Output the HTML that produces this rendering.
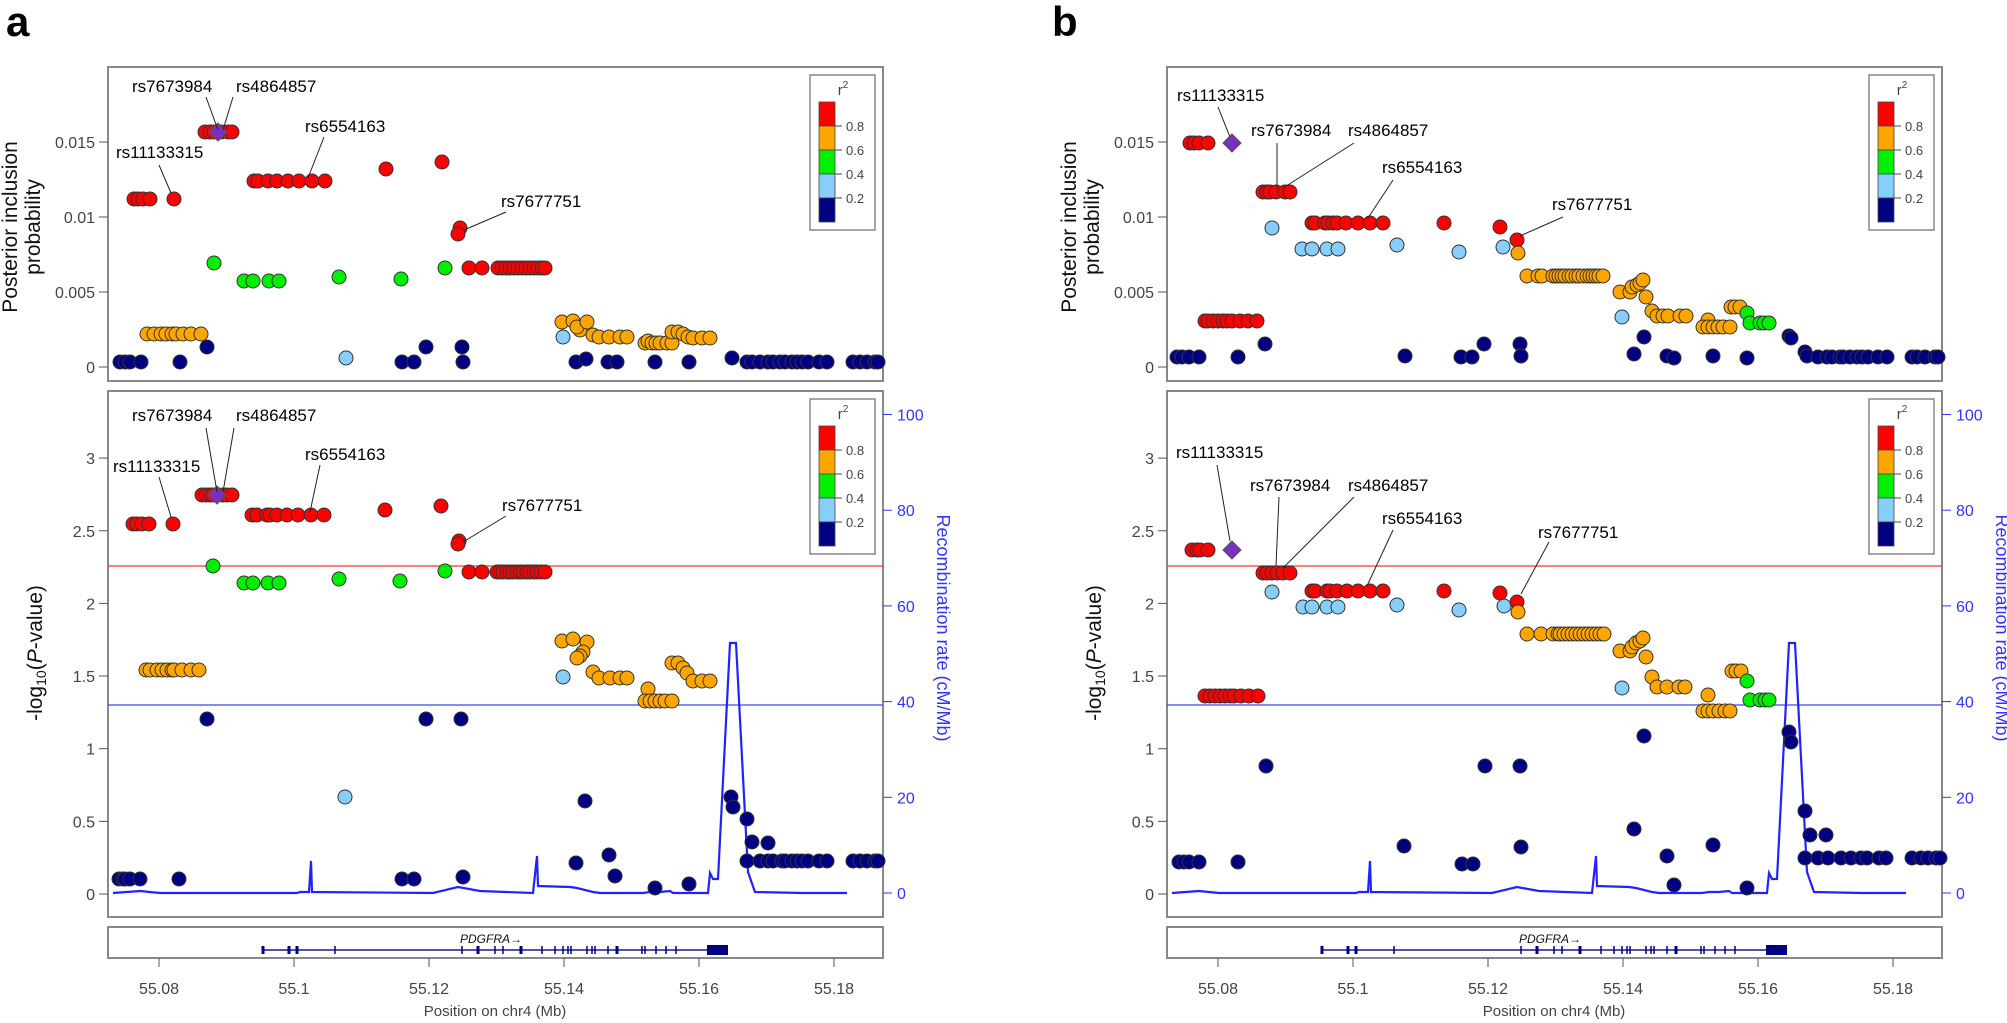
<!DOCTYPE html>
<html><head><meta charset="utf-8">
<style>
html,body{margin:0;padding:0;background:#fff;}
svg{display:block;}
text{font-family:"Liberation Sans",Arial,sans-serif;}
</style></head>
<body>
<svg id="s" width="2007" height="1023" xmlns="http://www.w3.org/2000/svg"></svg>
<script>
const S=document.getElementById('s');
let h='';
const col={n:'#000080',l:'#87CEFA',g:'#00EE00',o:'#FFA500',r:'#FF0000'};
function pts(dx,list,c){let o='';for(let i=0;i<list.length;i+=2){o+=`<circle cx="${list[i]+dx}" cy="${list[i+1]}" r="7" fill="${col[c]}" stroke="#333" stroke-width="1"/>`;}return o;}
function row(xs,y){const a=[];xs.forEach(x=>{a.push(x,y)});return a;}
function dia(x,y){return `<polygon points="${x},${y-9} ${x+9},${y} ${x},${y+9} ${x-9},${y}" fill="#7B2FBE" stroke="#555" stroke-width="1"/>`;}
function txt(x,y,t,o){o=o||{};return `<text x="${x}" y="${y}" font-size="${o.s||17}" fill="${o.f||'#000'}" text-anchor="${o.a||'start'}" ${o.e||''}>${t}</text>`;}
function ln(x1,y1,x2,y2,c,w){return `<line x1="${x1}" y1="${y1}" x2="${x2}" y2="${y2}" stroke="${c||'#222'}" stroke-width="${w||1}"/>`;}
function legend(dx,y0){let o=`<rect x="${810+dx}" y="${y0}" width="65" height="155" fill="#fff" stroke="#888" stroke-width="1.5"/>`;
 o+=`<text x="${843+dx}" y="${y0+20}" font-size="15" fill="#444" text-anchor="middle">r<tspan font-size="10" dy="-7">2</tspan></text>`;
 const cs=['r','o','g','l','n'];cs.forEach((c,i)=>{o+=`<rect x="${819+dx}" y="${y0+27+i*24}" width="16" height="24" fill="${col[c]}" stroke="#444" stroke-width="0.8"/>`;});
 ['0.8','0.6','0.4','0.2'].forEach((t,i)=>{const y=y0+51+i*24;o+=ln(835+dx,y,842+dx,y,'#444');o+=txt(846+dx,y+5,t,{s:13,f:'#444'});});return o;}
const recomb=[[113,893],[140,891],[160,893],[297,893],[300,892],[309,892],[311,861],[312,892],[433,893],[458,887],[480,891],[533,893],[537,856],[538,886],[570,887],[577,888],[593,892],[600,893],[627,893],[643,893],[650,892],[660,892],[670,891],[673,893],[708,893],[710,873],[713,879],[718,879],[730,643],[736,643],[748,872],[755,892],[803,893],[847,893]];
function frame(dx,L){
 let o='';
 o+=`<rect x="${108+dx}" y="67" width="775" height="314" fill="none" stroke="#888" stroke-width="2"/>`;
 o+=`<rect x="${108+dx}" y="391" width="775" height="526" fill="none" stroke="#888" stroke-width="2"/>`;
 o+=`<rect x="${108+dx}" y="927" width="775" height="31" fill="none" stroke="#888" stroke-width="2"/>`;
 [['0.015',142],['0.01',217],['0.005',292],['0',367]].forEach(([t,y])=>{o+=ln(99+dx,y,108+dx,y,'#555');o+=txt(95+dx,y+6,t,{s:16,f:'#444',a:'end'});});
 ['0','0.5','1','1.5','2','2.5','3'].forEach((t,i)=>{const y=894-i*0.5*145.3;o+=ln(99+dx,y,108+dx,y,'#555');o+=txt(95+dx,y+6,t,{s:16,f:'#444',a:'end'});});
 [0,20,40,60,80,100].forEach(v=>{const y=893-v*4.785;o+=ln(883+dx,y,892+dx,y,'#3333ff');o+=txt(897+dx,y+6,v,{s:16,f:'#3333ff'});});
 ['55.08','55.1','55.12','55.14','55.16','55.18'].forEach((t,i)=>{const x=159+i*135;o+=ln(x+dx,958,x+dx,967,'#555');o+=txt(x+dx,994,t,{s:16,f:'#444',a:'middle'});});
 o+=txt(495+dx,1016,'Position on chr4 (Mb)',{s:15,f:'#444',a:'middle'});
 o+=`<text transform="translate(${17+dx},227) rotate(-90)" font-size="21" text-anchor="middle" fill="#111">Posterior inclusion</text>`;
 o+=`<text transform="translate(${40+dx},227) rotate(-90)" font-size="21" text-anchor="middle" fill="#111">probability</text>`;
 o+=`<text transform="translate(${42+dx},653) rotate(-90)" font-size="21" text-anchor="middle" fill="#111">-log<tspan font-size="14" dy="4">10</tspan><tspan dy="-4">(</tspan><tspan font-style="italic">P</tspan>-value)</text>`;
 o+=`<text transform="translate(${937+dx},628) rotate(90)" font-size="18" text-anchor="middle" fill="#3333ff">Recombination rate (cM/Mb)</text>`;
 o+=ln(108+dx,566,883+dx,566,'#ff3333',1.3);
 o+=ln(108+dx,705,883+dx,705,'#4444ee',1.3);
 o+=`<polyline points="${recomb.map(p=>(p[0]+dx)+','+p[1]).join(' ')}" fill="none" stroke="#2222ff" stroke-width="2.2"/>`;
 o+=ln(263+dx,950,728+dx,950,'#1a1a8a',1.5);
 [263,289,297,335,462,478,495,503,521,542,555,563,568,571,587,592,595,608,617,642,645,656,666,676].forEach(x=>{const w=[263,289,297,478,521,617].includes(x)?3:1.5;o+=`<rect x="${x+dx-w/2}" y="946" width="${w}" height="8" fill="#000080"/>`;});
 o+=`<rect x="${707+dx}" y="945" width="21" height="10" fill="#000080"/>`;
 o+=`<text x="${460+dx}" y="943" font-size="12" font-style="italic" fill="#111">PDGFRA→</text>`;
 o+=legend(dx,75)+legend(dx,399);
 o+=`<text x="${L[1]}" y="36" font-size="42" font-weight="bold" fill="#000">${L[0]}</text>`;
 return o;
}
h+=frame(0,['a',6])+frame(1059,['b',1052]);

let a='';
a+=pts(0,row([120,125,130,141,180],362),'n');
a+=pts(0,row([147,154,161,166,172,176,183,191,201],334),'o');
a+=pts(0,[207,347],'n');
a+=pts(0,row([134,138,143,150,174],199),'r');
a+=pts(0,row([205,210,214,221,228,232],132),'r');
a+=pts(0,[214,263],'g');
a+=pts(0,row([254,258,268,277,288,299,312,325],181),'r');
a+=pts(0,row([244,253,269,279],281),'g');
a+=pts(0,[339,277,401,279,445,268],'g');
a+=pts(0,[346,358],'l');
a+=pts(0,[386,169,442,162,460,228,458,234],'r');
a+=pts(0,[402,362,414,362,426,347,462,347,463,362],'n');
a+=pts(0,row([469,482,498,502,506,510,514,518,522,526,530,534,538,542,545],268),'r');
a+=pts(0,[562,322,573,321,580,330,577,327,587,322,593,335,599,337,609,337,620,337,627,337,645,343,648,341,652,343,656,343,660,343,667,343,672,343,672,332,678,332,683,334,688,337,693,338,702,338,710,338],'o');
a+=pts(0,[563,337],'l');
a+=pts(0,[576,362,586,359,608,362,617,362,655,362,689,362,732,358],'n');
a+=pts(0,row([747,752,760,768,773,780,785,792,797,802,808,819,827,853,860,867,875,878],362),'n');
a+=dia(218,132);
a+=txt(132,92,'rs7673984')+txt(236,92,'rs4864857')+txt(305,132,'rs6554163')+txt(116,158,'rs11133315')+txt(501,207,'rs7677751');
a+=ln(206,97,218,130)+ln(233,97,223,130)+ln(324,137,308,178)+ln(159,165,171,193)+ln(506,212,464,230);
a+=pts(0,row([133,137,142,149,173],524),'r');
a+=pts(0,row([202,206,210,213,218,223,227,232],495),'r');
a+=pts(0,[213,566,339,579,400,581,445,571],'g');
a+=pts(0,row([252,257,267,270,277,287,298,311,324],515),'r');
a+=pts(0,row([244,253,268,279],583),'g');
a+=pts(0,[385,510,441,506,459,541,458,544],'r');
a+=pts(0,row([146,150,157,162,167,172,174,182,191,199],670),'o');
a+=pts(0,[207,719,426,719,461,719],'n');
a+=pts(0,row([469,482,497,500,503,507,510,513,517,520,523,527,530,534,537,541,545],572),'r');
a+=pts(0,[562,641,573,639,587,642,583,652,580,656,577,658,593,672,599,678,610,678,620,678,627,678,648,689,645,701,650,701,655,701,660,701,665,701,672,701,672,663,678,663,683,668,687,673,693,681,702,681,710,681],'o');
a+=pts(0,[563,677,345,797],'l');
a+=pts(0,row([119,123,125,130,140,179],879),'n');
a+=pts(0,[402,879,414,879,463,877,585,801,576,863,609,855,615,876,655,888,689,884,731,797,733,807,747,819,752,842,768,843],'n');
a+=pts(0,row([747,760,768,773,782,785,792,797,802,808,819,827,853,860,867,875,878],861),'n');
a+=dia(217,495);
a+=txt(132,421,'rs7673984')+txt(236,421,'rs4864857')+txt(113,472,'rs11133315')+txt(305,460,'rs6554163')+txt(502,511,'rs7677751');
a+=ln(206,428,217,492)+ln(234,428,223,492)+ln(159,477,171,517)+ln(320,465,310,512)+ln(506,516,463,542);
h+=a;

const D=1059;let b='';
b+=pts(D,row([118,123,130,140,179],357),'n');
b+=pts(D,row([131,135,140,149],143),'r');
b+=pts(D,row([146,149,154,159,164,168,173,181,189,198],321),'r');
b+=pts(D,[206,344],'n');
b+=pts(D,row([204,208,211,217,226,231],192),'r');
b+=pts(D,[213,228],'l');
b+=pts(D,row([253,256,266,269,274,278,287,299,311,324],223),'r');
b+=pts(D,row([243,253,268,279],249),'l');
b+=pts(D,[338,245,400,252,444,247,563,317],'l');
b+=pts(D,[385,223,441,227,458,240],'r');
b+=pts(D,[346,356,402,357,413,357,425,344,461,344,462,356],'n');
b+=pts(D,[459,253,468,276,479,276],'o');
b+=pts(D,row([483,494,497,500,503,506,510,513,517,520,524,528,531,534,537,540,544],276),'o');
b+=pts(D,[561,292,571,292,573,287,578,285,581,283,584,280,587,297,593,311,598,316,604,316,609,316,621,316,627,316,649,320,644,327,649,327,654,327,659,327,664,327,671,327,672,307,676,307,681,307],'o');
b+=pts(D,[688,313,691,323,701,323,705,323,710,323],'g');
b+=pts(D,[585,337,575,354,608,356,615,358,654,356,688,358,730,336,732,338,746,352,748,356],'n');
b+=pts(D,row([759,768,773,781,784,791,798,803,809,819,828,853,858,866,876,879],357),'n');
b+=dia(173+D,143);
b+=txt(1177,101,'rs11133315')+txt(1251,136,'rs7673984')+txt(1348,136,'rs4864857')+txt(1382,173,'rs6554163')+txt(1552,210,'rs7677751');
b+=ln(1218,107,1230,137)+ln(1277,143,1277,188)+ln(1354,143,1283,188)+ln(1393,180,1368,218)+ln(1563,217,1520,236);
b+=pts(D,row([133,138,141,149],550),'r');
b+=pts(D,row([204,208,213,218,224,231],573),'r');
b+=pts(D,[213,592],'l');
b+=pts(D,row([253,256,268,271,278,288,299,311,324],591),'r');
b+=pts(D,row([244,253,268,279],607),'l');
b+=pts(D,[338,605,400,610,445,606,563,688],'l');
b+=pts(D,[385,591,441,593,458,602],'r');
b+=pts(D,[459,612],'o');
b+=pts(D,row([468,482,494,499,501,505,509,513,517,521,525,529,533,537,541,545],634),'o');
b+=pts(D,row([146,151,156,161,166,171,175,182,190,199],696),'r');
b+=pts(D,[561,651,571,651,573,647,577,643,581,641,584,638,587,657,593,677,598,687,608,687,620,687,626,687,649,695,673,671,677,671,682,671],'o');
b+=pts(D,row([644,649,654,660,666,671],711),'o');
b+=pts(D,[688,681,691,700,701,700,706,700,710,700],'g');
b+=pts(D,row([120,125,130,140,179],862),'n');
b+=pts(D,[207,766,345,846,403,864,414,864,426,766,461,766,462,847,585,736,575,829,608,856,615,885,654,845,688,888,730,732,732,742,746,811,751,835,767,835],'n');
b+=pts(D,row([746,759,769,782,792,802,808,820,827,853,862,869,877,881],858),'n');
b+=dia(173+D,550);
b+=txt(1176,458,'rs11133315')+txt(1250,491,'rs7673984')+txt(1348,491,'rs4864857')+txt(1382,524,'rs6554163')+txt(1538,538,'rs7677751');
b+=ln(1217,465,1230,541)+ln(1279,497,1276,566)+ln(1354,497,1283,568)+ln(1393,530,1367,586)+ln(1549,542,1521,594);
h+=b;
S.innerHTML=h;
</script>
</body></html>
